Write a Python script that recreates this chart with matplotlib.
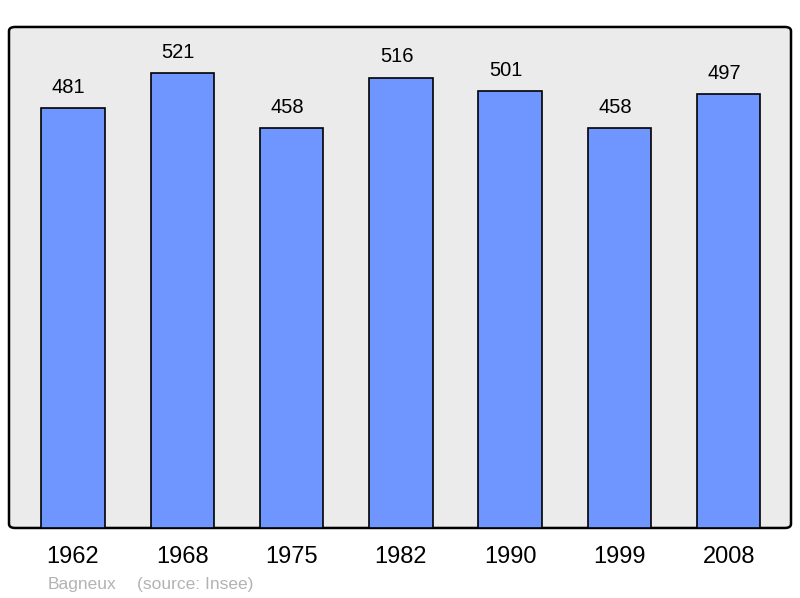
import matplotlib.pyplot as plt
from matplotlib.patches import FancyBboxPatch

# données population
annees = ["1962", "1968", "1975", "1982", "1990", "1999", "2008"]
population = [481, 521, 458, 516, 501, 458, 497]
commune = "Bagneux"
source = "(source: Insee)"

plt.rcParams['font.family'] = ['Liberation Sans', 'DejaVu Sans']

fig = plt.figure(figsize=(8, 5.98), dpi=100)
ax = fig.add_axes([0.01125, 0.1171, 0.9775, 0.8378])
ax.set_facecolor('none')

# fond arrondi
fond = FancyBboxPatch((0, 0), 1, 1, boxstyle="round,pad=0,rounding_size=0.008",
                      transform=ax.transAxes, facecolor='#ebebeb',
                      edgecolor='black', linewidth=1.8, zorder=0, clip_on=False)
ax.add_patch(fond)

x = range(len(annees))
barres = ax.bar(x, population, width=0.58, color='#6f96ff',
                edgecolor='black', linewidth=1.2, zorder=2)

# étiquettes de valeurs (légèrement décalées à gauche comme l'original)
for xi, val in zip(x, population):
    ax.annotate(str(val), (xi, val), xytext=(-3, 8), textcoords='offset points',
                ha='center', va='bottom', fontsize=14.5)

ax.set_xlim(-0.585, 6.57)
ax.set_ylim(0, 574)
ax.set_xticks(list(x))
ax.set_xticklabels(annees, fontsize=17)
ax.tick_params(axis='x', length=0, pad=13)
ax.set_yticks([])
for s in ax.spines.values():
    s.set_visible(False)

fig.text(48 / 800, 1 - 584 / 598, commune, fontsize=12.5, color='#b3b3b3', va='center')
fig.text(137 / 800, 1 - 584 / 598, source, fontsize=12.5, color='#b3b3b3', va='center')

fig.savefig("out.png", dpi=100)
